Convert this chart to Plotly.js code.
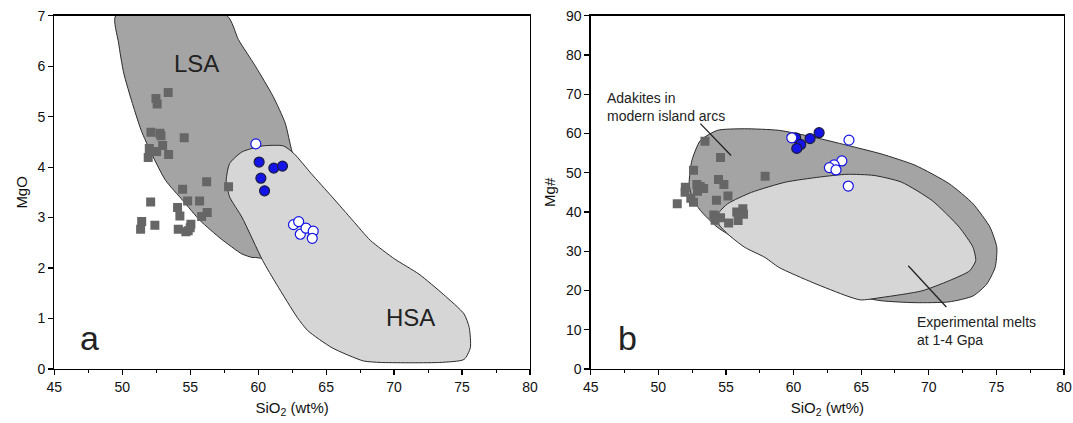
<!DOCTYPE html>
<html>
<head>
<meta charset="utf-8">
<script src="https://cdn.plot.ly/plotly-3.0.1.min.js"></script>
<style>html,body{margin:0;padding:0;background:#fff;}#chart{width:1073px;height:423px;}</style>
</head>
<body>
<div id="chart"></div>
<script>
// ---------- Panel a: SiO2 vs MgO ----------
const lsaX = [49.52, 57.70, 58.54, 59.82, 61.10, 61.99, 62.50, 63.2, 62.0, 60.3, 59.82, 59.56, 58.80, 57.26, 55.73, 54.45, 53.18, 52.15, 51.39, 50.75, 50.11, 49.73, 49.52];
const lsaY = [7.0, 7.0, 6.53, 5.99, 5.40, 4.87, 4.30, 3.8, 2.8, 2.2, 2.21, 2.21, 2.28, 2.58, 2.94, 3.34, 3.74, 4.27, 4.73, 5.26, 5.86, 6.46, 7.0];
const hsaX = [57.65, 57.90, 58.80, 60.33, 61.86, 62.63, 63.91, 65.44, 66.97, 68.25, 70.04, 71.83, 73.62, 75.15, 75.53, 75.61, 75.15, 73.36, 69.02, 67.74, 65.44, 63.65, 62.88, 61.35, 60.33, 58.80, 57.90, 57.65];
const hsaY = [3.74, 4.07, 4.30, 4.42, 4.42, 4.27, 3.87, 3.41, 2.94, 2.55, 2.18, 1.88, 1.48, 1.09, 0.82, 0.42, 0.19, 0.13, 0.13, 0.16, 0.42, 0.76, 1.02, 1.68, 2.15, 3.01, 3.41, 3.74];

const aSqX = [53.38, 52.48, 52.57, 52.11, 52.77, 52.85, 54.56, 52.97, 51.99, 52.53, 51.91, 53.41, 56.21, 57.82, 54.44, 52.09, 54.81, 55.69, 54.07, 56.25, 54.24, 55.84, 51.43, 52.40, 55.05, 51.35, 54.12, 54.68, 54.85, 55.0];
const aSqY = [5.48, 5.36, 5.25, 4.69, 4.67, 4.62, 4.58, 4.43, 4.37, 4.31, 4.19, 4.25, 3.71, 3.61, 3.56, 3.31, 3.33, 3.33, 3.20, 3.10, 3.03, 3.02, 2.92, 2.85, 2.87, 2.77, 2.77, 2.72, 2.74, 2.80];
const aFillX = [60.07, 61.15, 61.79, 60.20, 60.47];
const aFillY = [4.10, 3.98, 4.02, 3.78, 3.53];
const aOpenX = [59.83, 62.60, 62.98, 63.10, 63.52, 64.05, 63.98];
const aOpenY = [4.46, 2.86, 2.92, 2.67, 2.79, 2.73, 2.59];

// ---------- Panel b: SiO2 vs Mg# ----------
const adakX = [52.28, 52.48, 53.11, 54.37, 56.39, 58.91, 61.43, 63.95, 66.47, 68.99, 71.51, 73.27, 74.53, 75.03, 74.91, 74.28, 73.27, 71.51, 68.99, 66.47, 63.95, 61.43, 58.91, 56.39, 54.37, 53.11, 52.48, 52.28];
const adakY = [47.2, 53.1, 58.2, 60.8, 61.2, 60.8, 59.1, 57.0, 54.8, 51.9, 47.2, 42.1, 36.1, 31.0, 25.9, 21.6, 18.6, 17.1, 16.9, 17.4, 19.1, 22.5, 26.7, 31.8, 36.1, 40.4, 43.8, 47.2];
const expX = [54.50, 55.13, 56.89, 59.41, 61.93, 63.95, 65.96, 67.98, 70.25, 72.26, 73.27, 73.47, 73.02, 71.51, 69.49, 66.47, 64.95, 63.95, 61.43, 58.91, 57.90, 56.39, 55.13, 54.37, 54.50];
const expY = [39.9, 42.1, 45.0, 47.6, 48.9, 49.6, 49.3, 47.6, 42.9, 36.1, 31.0, 27.6, 25.0, 22.5, 19.9, 18.2, 17.6, 18.6, 22.0, 25.9, 28.4, 31.0, 34.4, 37.4, 39.9];

const bSqX = [53.45, 54.6, 52.6, 57.9, 54.45, 54.85, 52.85, 53.35, 52.0, 51.98, 52.4, 52.6, 51.4, 54.3, 55.15, 54.1, 54.6, 54.2, 55.2, 55.8, 56.25, 56.3, 55.9, 52.9, 53.1];
const bSqY = [58.0, 53.9, 50.6, 49.1, 48.3, 47.0, 47.0, 46.0, 46.3, 45.0, 43.5, 42.5, 42.1, 43.0, 44.1, 39.2, 38.5, 37.9, 37.2, 40.0, 40.8, 39.4, 37.8, 45.3, 46.5];
const bFillX = [60.16, 61.22, 61.89, 60.53, 60.24];
const bFillY = [58.9, 58.7, 60.2, 57.2, 56.2];
const bOpenX = [59.87, 64.1, 63.57, 63.0, 62.65, 63.14, 64.05];
const bOpenY = [58.9, 58.3, 53.0, 52.0, 51.3, 50.7, 46.6];

// pointer lines for labels (data units)
const adakPtrX = [53.11, 55.38];
const adakPtrY = [62.5, 54.4];
const expPtrX = [68.48, 71.30];
const expPtrY = [26.3, 15.8];

const xTicks = [45, 50, 55, 60, 65, 70, 75, 80];
const yTicksA = [0, 1, 2, 3, 4, 5, 6, 7];
const yTicksB = [0, 10, 20, 30, 40, 50, 60, 70, 80, 90];

const FONT = 'Arial, "Liberation Sans", sans-serif';
const DARK = '#a4a4a4', LIGHT = '#d6d6d6', EDGE = '#2a2a2a';
const SQ = '#666666', BLUE = '#1414e6';

function poly(x, y, color, xa, ya) {
  return {x, y, xaxis: xa, yaxis: ya, type: 'scatter', mode: 'lines', fill: 'toself',
    fillcolor: color, line: {color: EDGE, width: 1, shape: 'spline', smoothing: 0.6}, hoverinfo: 'skip', showlegend: false};
}
function pts(x, y, sym, fill, lc, size, xa, ya) {
  return {x, y, xaxis: xa, yaxis: ya, type: 'scatter', mode: 'markers', showlegend: false,
    marker: {symbol: sym, color: fill, size: size, line: {color: lc, width: lc === fill ? 0 : 1.2}}};
}

const data = [
  poly(lsaX, lsaY, DARK, 'x', 'y'),
  poly(hsaX, hsaY, LIGHT, 'x', 'y'),
  pts(aSqX, aSqY, 'square', SQ, SQ, 9, 'x', 'y'),
  pts(aFillX, aFillY, 'circle', BLUE, '#1a1a40', 10, 'x', 'y'),
  pts(aOpenX, aOpenY, 'circle', '#ffffff', BLUE, 10, 'x', 'y'),
  poly(adakX, adakY, DARK, 'x2', 'y2'),
  poly(expX, expY, LIGHT, 'x2', 'y2'),
  {x: adakPtrX, y: adakPtrY, xaxis: 'x2', yaxis: 'y2', type: 'scatter', mode: 'lines', line: {color: '#222', width: 1.3}, showlegend: false, hoverinfo: 'skip'},
  {x: expPtrX, y: expPtrY, xaxis: 'x2', yaxis: 'y2', type: 'scatter', mode: 'lines', line: {color: '#222', width: 1.3}, showlegend: false, hoverinfo: 'skip'},
  pts(bSqX, bSqY, 'square', SQ, SQ, 9, 'x2', 'y2'),
  pts(bFillX, bFillY, 'circle', BLUE, '#1a1a40', 10, 'x2', 'y2'),
  pts(bOpenX, bOpenY, 'circle', '#ffffff', BLUE, 10, 'x2', 'y2')
];

function xax(dom, anchor) {
  return {domain: dom, anchor: anchor, range: [45, 80], tickmode: 'array', tickvals: xTicks,
    ticks: 'outside', ticklen: 5, tickwidth: 1.2, tickcolor: '#000',
    minor: {tickmode: 'linear', tick0: 45, dtick: 2.5, ticks: 'outside', ticklen: 3, tickcolor: '#000', tickwidth: 1},
    showline: true, linecolor: '#000', linewidth: 1.3, mirror: true, showgrid: false, zeroline: false,
    tickfont: {family: FONT, size: 14, color: '#111'},
    title: {text: 'SiO<sub>2</sub> (wt%)', font: {family: FONT, size: 15, color: '#111'}, standoff: 8}};
}
function yax(dom, anchor, rng, vals, title) {
  return {domain: dom, anchor: anchor, range: rng, tickmode: 'array', tickvals: vals,
    ticks: 'outside', ticklen: 5, tickwidth: 1.2, tickcolor: '#000',
    showline: true, linecolor: '#000', linewidth: 1.3, mirror: true, showgrid: false, zeroline: false,
    tickfont: {family: FONT, size: 14, color: '#111'},
    title: {text: title, font: {family: FONT, size: 15, color: '#111'}, standoff: 6}};
}

const yDom = [1 - 369 / 423, 1 - 15.7 / 423];
const layout = {
  width: 1073, height: 423,
  margin: {l: 0, r: 0, t: 0, b: 0, pad: 0},
  paper_bgcolor: '#fff', plot_bgcolor: '#fff',
  showlegend: false,
  xaxis: xax([54.3 / 1073, 530 / 1073], 'y'),
  yaxis: yax(yDom, 'x', [0, 7], yTicksA, 'MgO'),
  xaxis2: xax([590.7 / 1073, 1064 / 1073], 'y2'),
  yaxis2: yax(yDom, 'x2', [0, 90], yTicksB, 'Mg#'),
  annotations: [
    {text: 'LSA', x: 55.47, y: 6.06, xref: 'x', yref: 'y', showarrow: false, font: {family: FONT, size: 24, color: '#222'}},
    {text: 'HSA', x: 71.19, y: 1.02, xref: 'x', yref: 'y', showarrow: false, font: {family: FONT, size: 24, color: '#222'}},
    {text: 'a', x: 47.6, y: 0.62, xref: 'x', yref: 'y', showarrow: false, font: {family: FONT, size: 34, color: '#222'}},
    {text: 'b', x: 47.7, y: 8.0, xref: 'x2', yref: 'y2', showarrow: false, font: {family: FONT, size: 34, color: '#222'}},
    {text: 'Adakites in<br>modern island arcs', x: 46.05, y: 66.8, xref: 'x2', yref: 'y2', xanchor: 'left', align: 'left', showarrow: false, font: {family: FONT, size: 14, color: '#222'}},
    {text: 'Experimental melts<br>at 1-4 Gpa', x: 68.99, y: 9.7, xref: 'x2', yref: 'y2', xanchor: 'left', align: 'left', showarrow: false, font: {family: FONT, size: 14, color: '#222'}}
  ]
};

Plotly.newPlot('chart', data, layout, {displayModeBar: false, staticPlot: true});
</script>
</body>
</html>
